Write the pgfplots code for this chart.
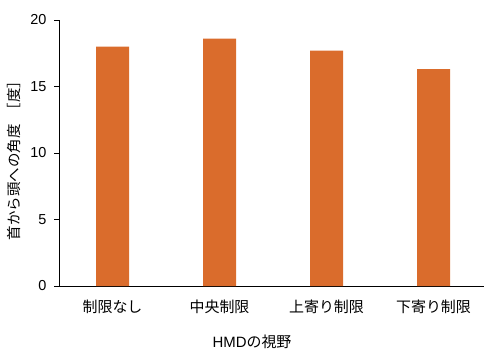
\documentclass[border=0pt]{standalone}
\usepackage{pgfplots}
\pgfplotsset{compat=1.18}
\usepackage{fontspec}
\setmainfont{Liberation Sans}
\newfontfamily\cjk{Noto Sans CJK JP}
\definecolor{barc}{RGB}{218,108,44}
\begin{document}
\begin{tikzpicture}[x=1bp,y=1bp]
\useasboundingbox (0,0) rectangle (484,352);
\begin{axis}[
  at={(59bp,66bp)}, anchor=south west,
  scale only axis, width=425bp, height=266bp,
  xmin=-0.5, xmax=3.472, ymin=0, ymax=20,
  axis x line*=bottom, axis y line*=left,
  axis line style={black, line width=0.9pt, -},
  ytick={0,5,10,15,20},
  xtick={0,1,2,3},
  xticklabels={制限なし,中央制限,上寄り制限,下寄り制限},
  x tick label style={font=\cjk\fontsize{15}{16}\selectfont, yshift=-5bp},
  major x tick style={draw=none},
  tick align=outside,
  major tick length=5bp,
  y tick style={black, line width=0.8pt},
  y tick label style={font=\fontsize{14.5}{15}\selectfont, xshift=-4bp},
  /pgf/number format/assume math mode=true,
  ybar, bar width=33bp,
  clip=false,
]
\addplot[fill=barc, draw=none] coordinates {(0,18.0) (1,18.6) (2,17.7) (3,16.3)};
\end{axis}
\node[rotate=90, font=\cjk\fontsize{14.5}{15}\selectfont] at (14,195) {首から頭への角度\hspace{0.5em}［度］};
\node[font=\fontsize{15}{16}\selectfont] at (252,10) {HMD{\cjk の視野}};
\end{tikzpicture}
\end{document}
